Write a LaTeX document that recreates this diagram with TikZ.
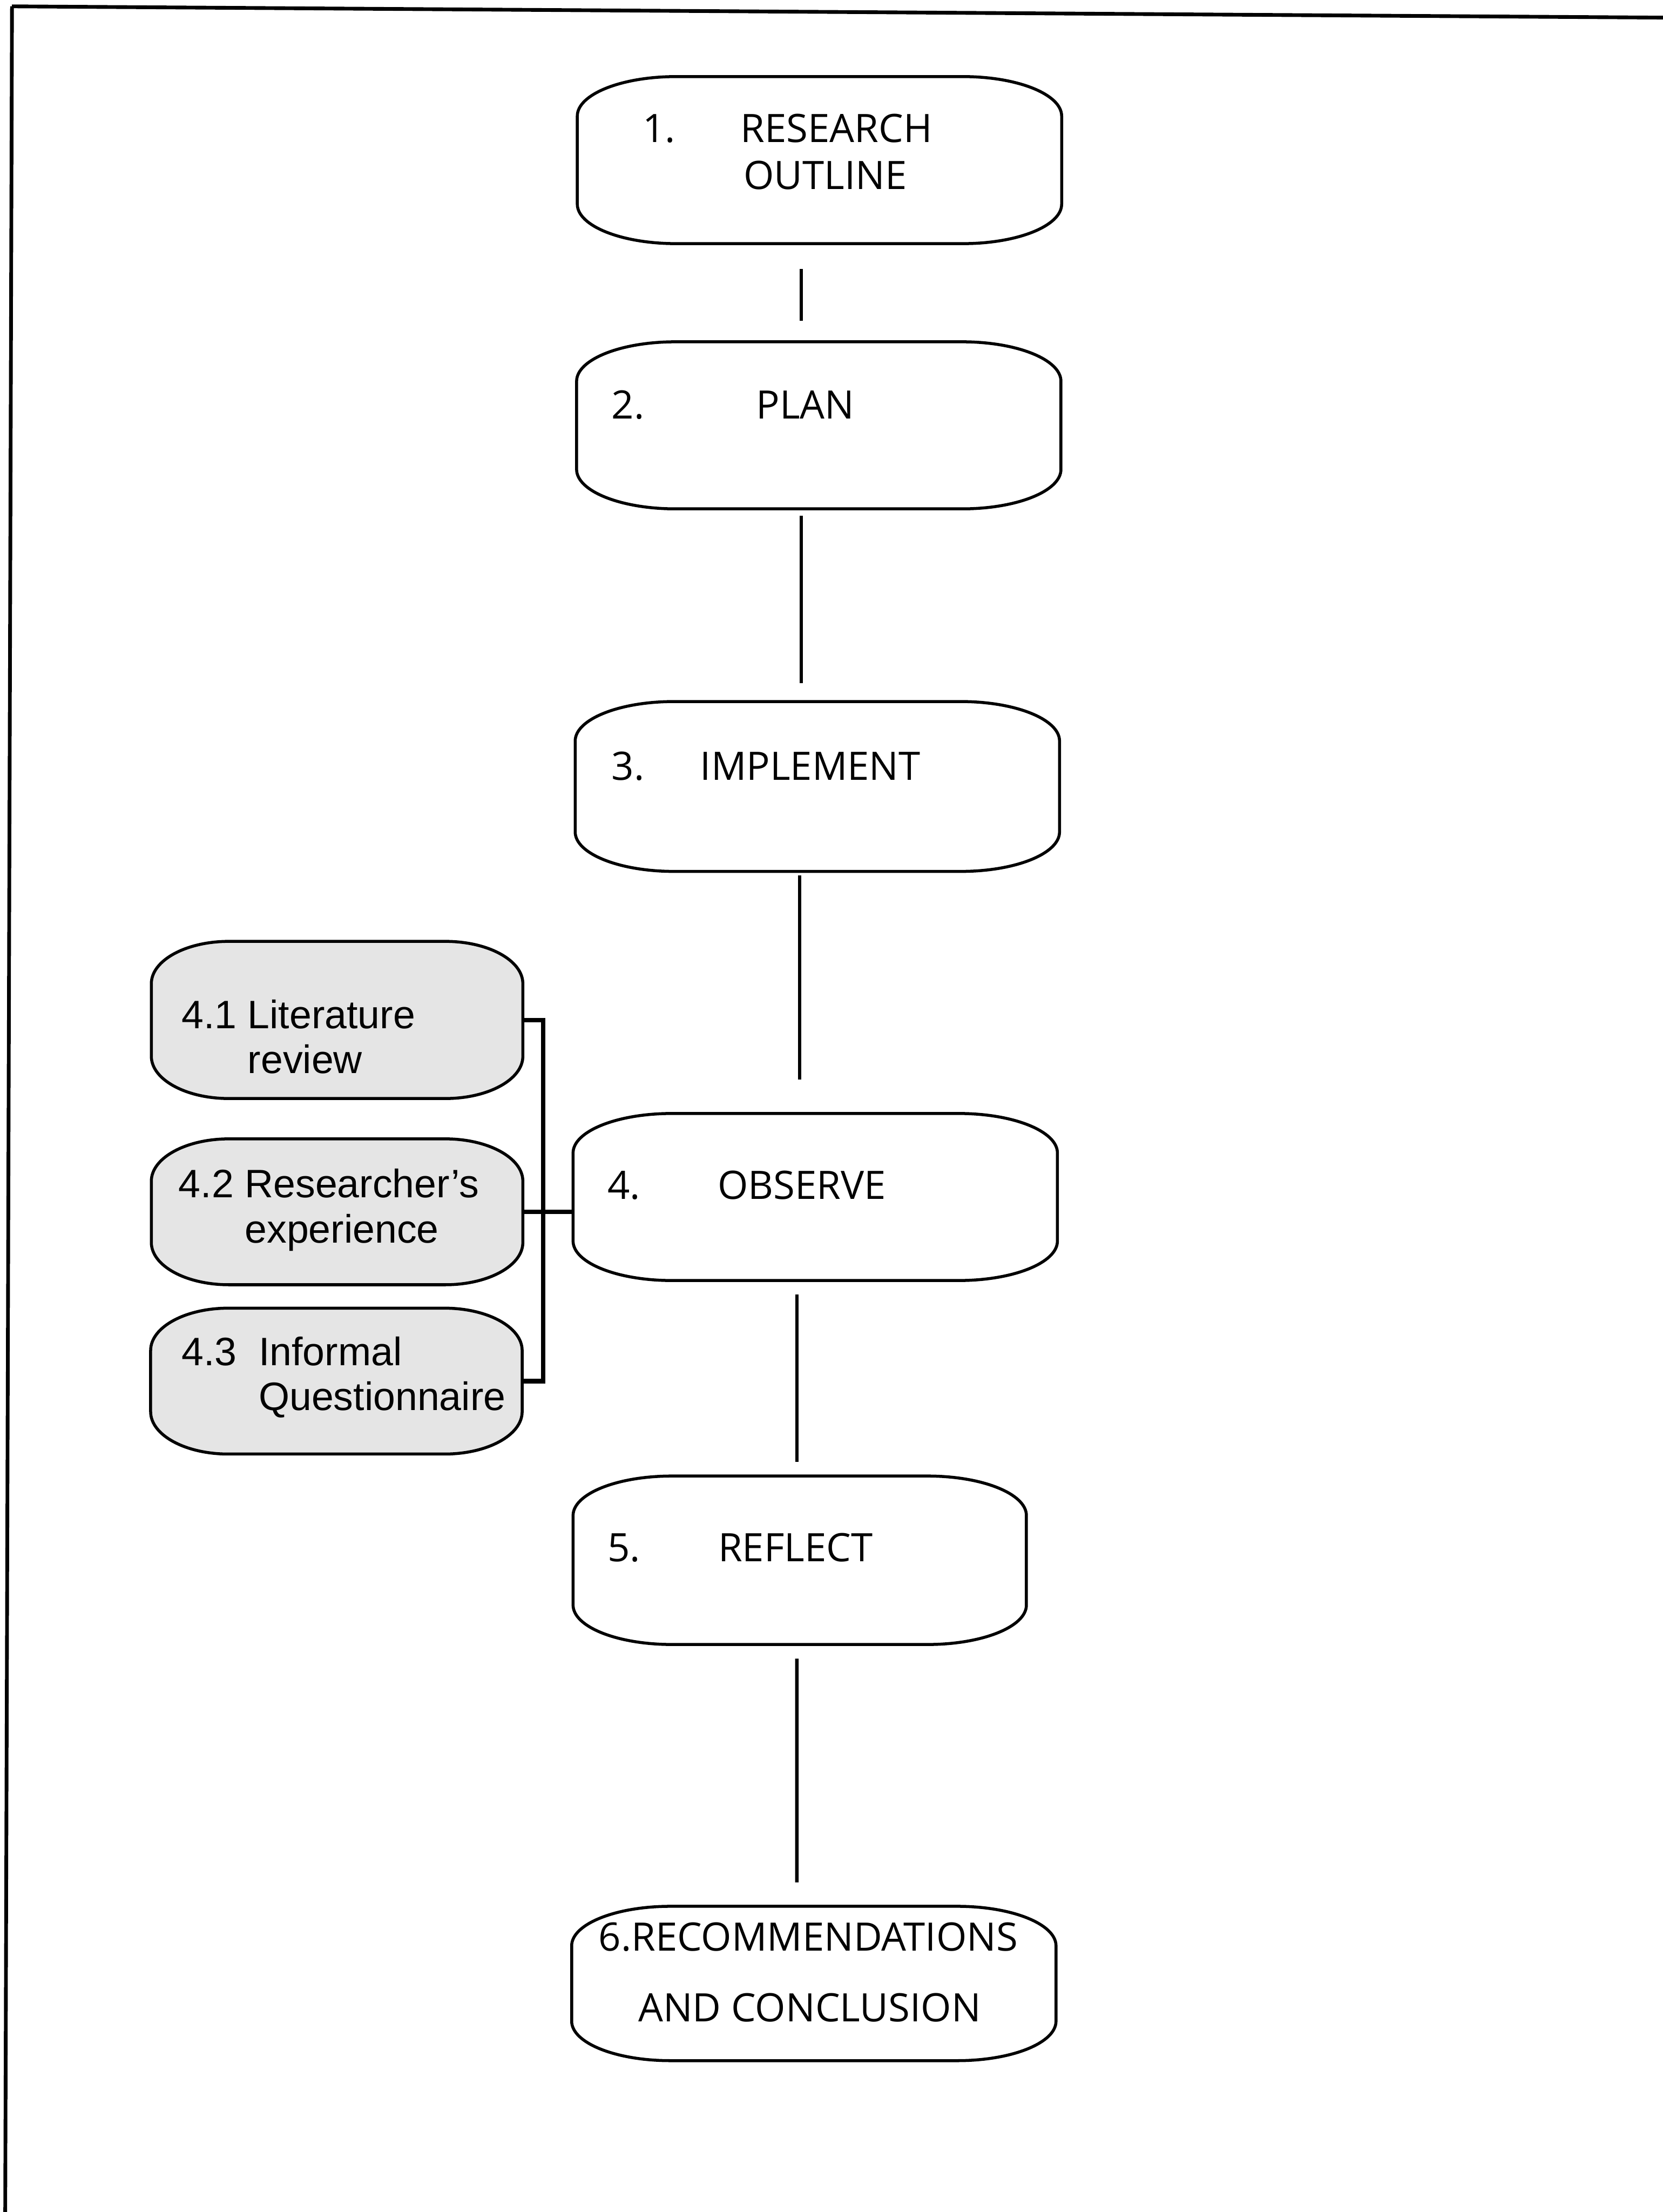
\documentclass[tikz,border=0pt]{standalone}
\usepackage{fontspec}
\newfontfamily\stagefont{Open Sans}
\newfontfamily\sidefont{Liberation Sans}
\usetikzlibrary{positioning}

\tikzset{
	outline/.style = {draw = black, line width = .6pt},
	stage/.style = {minimum width = 3.42cm, minimum height = 1.17cm, inner sep = 0pt},
	side/.style = {minimum width = 2.62cm, minimum height = 1.02cm, inner sep = 0pt},
	stagetext/.style = {inner sep = 0pt, font = \stagefont\fontsize{7.9}{9.4}\selectfont},
	sidetext/.style = {inner sep = 0pt, font = \sidefont\fontsize{8}{9.07}\selectfont},
	link/.style = {line width = .7pt},
	bracket/.style = {line width = .9pt},
	frame/.style = {line width = .75pt}
}

\begin{document}
\begin{tikzpicture}
		\useasboundingbox (0,0) rectangle (11.79,-15.68);
		% page frame (top and left only)
		\draw[frame] (0.085,-0.045) -- (11.79,-0.125);
		\draw[frame] (0.085,-0.045) -- (0.037,-15.68);

		% main stages
		\node[stage] (s1) at (5.81,-1.135) {};
		\node[stage] (s2) at (5.805,-3.015) {};
		\node[stage, minimum height = 1.19cm] (s3) at (5.795,-5.575) {};
		\node[stage] (s4) at (5.78,-8.485) {};
		\node[stage, minimum width = 3.2cm, minimum height = 1.18cm] (s5) at (5.67,-11.06) {};
		\node[stage, minimum height = 1.08cm] (s6) at (5.77,-14.06) {};

		% sources of observation
		\node[side, minimum height = 1.1cm] (b1) at (2.39,-7.23) {};
		\node[side] (b2) at (2.39,-8.59) {};
		\node[side] (b3) at (2.385,-9.79) {};

		\foreach \n in {s1,s2,s3,s4,s5,s6}
		{
			\draw[outline] ([xshift=7mm]\n.north west) -- ([xshift=-7mm]\n.north east)
				arc[start angle=90, end angle=0, x radius=7mm, y radius=2.8mm]
				-- ([yshift=2.8mm]\n.south east)
				arc[start angle=0, end angle=-90, x radius=7mm, y radius=2.8mm]
				-- ([xshift=7mm]\n.south west)
				arc[start angle=270, end angle=180, x radius=7mm, y radius=2.8mm]
				-- ([yshift=-2.8mm]\n.north west)
				arc[start angle=180, end angle=90, x radius=7mm, y radius=2.8mm] -- cycle;
		}
		\foreach \n in {b1,b2,b3}
		{
			\draw[outline, fill = black!10] ([xshift=5.5mm]\n.north west) -- ([xshift=-5.5mm]\n.north east)
				arc[start angle=90, end angle=0, x radius=5.5mm, y radius=3mm]
				-- ([yshift=3mm]\n.south east)
				arc[start angle=0, end angle=-90, x radius=5.5mm, y radius=3mm]
				-- ([xshift=5.5mm]\n.south west)
				arc[start angle=270, end angle=180, x radius=5.5mm, y radius=3mm]
				-- ([yshift=-3mm]\n.north west)
				arc[start angle=180, end angle=90, x radius=5.5mm, y radius=3mm] -- cycle;
		}

		% stage labels
		\node[stagetext, anchor = base west] (n1) at (4.55,-1.01) {1.};
		\node[stagetext, anchor = base] (t1a) at (5.93,-1.01) {RESEARCH};
		\node[stagetext, anchor = base] (t1b) at (5.85,-1.34) {OUTLINE};
		\node[stagetext, anchor = base west] (n2) at (4.33,-2.97) {2.};
		\node[stagetext, anchor = base] (t2) at (5.71,-2.97) {PLAN};
		\node[stagetext, anchor = base west] (n3) at (4.33,-5.53) {3.};
		\node[stagetext, anchor = base] (t3) at (5.745,-5.53) {IMPLEMENT};
		\node[stagetext, anchor = base west] (n4) at (4.30,-8.50) {4.};
		\node[stagetext, anchor = base] (t4) at (5.685,-8.50) {OBSERVE};
		\node[stagetext, anchor = base west] (n5) at (4.30,-11.07) {5.};
		\node[stagetext, anchor = base] (t5) at (5.64,-11.07) {REFLECT};
		\node[stagetext, anchor = base] (t6a) at (5.73,-13.83) {6.RECOMMENDATIONS};
		\node[stagetext, anchor = base] (t6b) at (5.74,-14.33) {AND CONCLUSION};

		\node[sidetext, anchor = base west] (l1) at (1.28,-7.29)
			{\begin{tabular}[t]{@{}l@{}}4.1 Literature\\ \phantom{4.1 }review\end{tabular}};
		\node[sidetext, anchor = base west] (l2) at (1.26,-8.49)
			{\begin{tabular}[t]{@{}l@{}}4.2 Researcher’s\\ \phantom{4.2 }experience\end{tabular}};
		\node[sidetext, anchor = base west] (l3) at (1.28,-9.68)
			{\begin{tabular}[t]{@{}l@{}}4.3\ \ Informal\\ \phantom{4.3\ \ }Questionnaire\end{tabular}};

		% connectors between stages
		\draw[link] ([shift={(-0.13,-0.18)}]s1.south) -- ([shift={(-0.125,0.15)}]s2.north);
		\draw[link] ([shift={(-0.125,-0.05)}]s2.south) -- ([shift={(-0.115,0.13)}]s3.north);
		\draw[link] ([shift={(-0.125,-0.03)}]s3.south) -- ([shift={(-0.11,0.24)}]s4.north);
		\draw[link] ([shift={(-0.13,-0.10)}]s4.south) -- ([shift={(-0.02,0.10)}]s5.north);
		\draw[link] ([shift={(-0.02,-0.10)}]s5.south) -- ([shift={(-0.12,0.17)}]s6.north);

		% bracket joining the sources to OBSERVE
		\coordinate (bus) at (3.85,-8.59);
		\draw[bracket] (b1.east) -| (bus) |- (b3.east);
		\draw[bracket] (b2.east) -- (b2.east -| s4.west);
	\end{tikzpicture}
\end{document}
